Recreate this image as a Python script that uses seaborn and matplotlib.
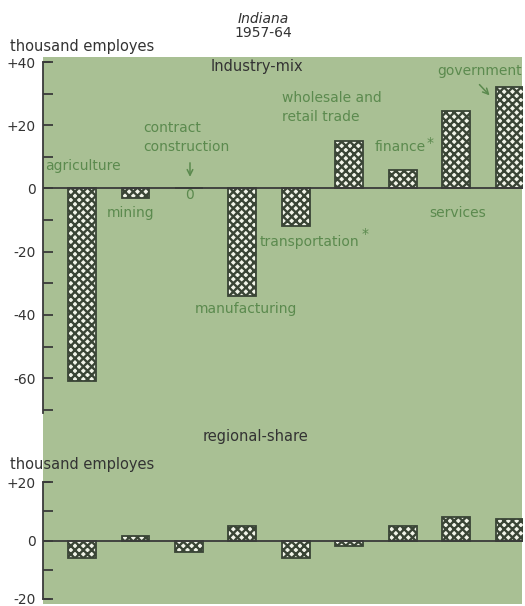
import matplotlib
matplotlib.use("Agg")
import matplotlib.pyplot as plt
from matplotlib.patches import Rectangle
import seaborn as sns
import pandas as pd

# values (thousand employes, 1957-64)
categories = ["agriculture", "mining", "contract construction", "manufacturing",
              "transportation", "wholesale and retail trade", "finance",
              "services", "government"]
industry_mix = [-61, -3, 0, -34, -12, 15, 6, 24.5, 32]
regional_share = [-6, 1.5, -4, 5, -6, -2, 5, 8, 7.5]

top_ticks = [40, 20, 0, -20, -40, -60]
top_ticklabels = ["+40", "+20", "0", "-20", "-40", "-60"]
bot_ticks = [20, 0, -20]
bot_ticklabels = ["+20", "0", "-20"]

sns.set_style("ticks")
plt.rcParams['font.family'] = ['DejaVu Sans']
plt.rcParams['hatch.linewidth'] = 1.7
plt.rcParams['hatch.color'] = '#3a4536'

BG = '#a9c094'
DARK = '#333333'
GREEN = '#5b8a4e'
BAR_EDGE = '#3a4536'
BAR_FACE = '#f2f5ea'

W, H = 525, 606
fig = plt.figure(figsize=(W / 100, H / 100), dpi=100)
fig.patch.set_facecolor('white')


def px_box(x0, y0, x1, y1):
    # pixel box (top-left origin) -> figure fraction rect
    return [x0 / W, 1 - y1 / H, (x1 - x0) / W, (y1 - y0) / H]


fig.patches.append(Rectangle((43 / W, 2 / H), (522 - 43) / W, (604 - 57) / H,
                             transform=fig.transFigure, facecolor=BG,
                             edgecolor='none', zorder=-5))

df = pd.DataFrame({'cat': categories, 'mix': industry_mix, 'share': regional_share})

ax1 = fig.add_axes(px_box(43, 62, 523, 413))
ax2 = fig.add_axes(px_box(43, 482, 523, 599))

for ax, col, ylim, ticks, labels in [
        (ax1, 'mix', (-71, 40), top_ticks, top_ticklabels),
        (ax2, 'share', (-20, 20), bot_ticks, bot_ticklabels)]:
    ax.patch.set_alpha(0)
    sns.barplot(data=df, x='cat', y=col, ax=ax, color=BAR_FACE, width=0.52,
                edgecolor=BAR_EDGE, linewidth=1.3, saturation=1)
    for p in ax.patches:
        p.set_hatch('xxxx')
        p.set_facecolor(BAR_FACE)
    ax.axhline(0, color='#3a3a3a', lw=1.3, zorder=5)
    ax.set_xlim(-0.73, 8.25)
    ax.set_ylim(*ylim)
    ax.set_yticks(ticks)
    ax.set_yticklabels(labels)
    ax.set_yticks([t + 10 for t in ticks[1:]] + [ticks[-1] - 10] if col == 'mix'
                  else [10, -10], minor=True)
    ax.tick_params(axis='y', which='both', direction='in', length=7, width=1.3,
                   color='#3a3a3a', labelsize=10, labelcolor=DARK, pad=5)
    ax.set_xticks([])
    ax.set_xlabel('')
    ax.set_ylabel('')
    for s in ['top', 'right', 'bottom']:
        ax.spines[s].set_visible(False)
    ax.spines['left'].set_color('#3a3a3a')
    ax.spines['left'].set_linewidth(1.3)
    ax.spines['left'].set_bounds(ylim[0], ylim[1])

# corner marks at the top and bottom of the axis lines
ax1.plot([-0.73, -0.6], [40, 40], color='#3a3a3a', lw=1.3, clip_on=False)
ax2.plot([-0.73, -0.6], [20, 20], color='#3a3a3a', lw=1.3, clip_on=False)
ax2.plot([-0.73, -0.6], [-20, -20], color='#3a3a3a', lw=1.3, clip_on=False)

# titles and unit labels
fig.text(263 / W, 1 - 19 / H, 'Indiana', ha='center', va='center', style='italic',
         fontsize=10, color=DARK)
fig.text(263 / W, 1 - 33 / H, '1957-64', ha='center', va='center', fontsize=10,
         color=DARK)
fig.text(10 / W, 1 - 47 / H, 'thousand employes', ha='left', va='center',
         fontsize=10.5, color=DARK)
fig.text(10 / W, 1 - 465 / H, 'thousand employes', ha='left', va='center',
         fontsize=10.5, color=DARK)
fig.text(257 / W, 1 - 67 / H, 'Industry-mix', ha='center', va='center',
         fontsize=10.5, color=DARK)
fig.text(255 / W, 1 - 436 / H, 'regional-share', ha='center', va='center',
         fontsize=10.5, color=DARK)

# green category labels
kw = dict(fontsize=10, color=GREEN, va='center', ha='left')
ax1.text(-0.69, 7, 'agriculture', **kw)
ax1.text(0.47, -7.6, 'mining', **kw)
ax1.text(1.14, 16.1, 'contract\nconstruction', linespacing=1.5, **kw)
ax1.annotate('', xy=(2.02, 2.8), xytext=(2.02, 9.0),
             arrowprops=dict(arrowstyle='->', color=GREEN, lw=1.1))
ax1.text(2.02, -2, '0', fontsize=10, color=GREEN, va='center', ha='center')
ax1.text(3.07, -38, 'manufacturing', fontsize=10, color=GREEN, va='center', ha='center')
ax1.text(3.33, -17, 'transportation', **kw)
ax1.text(5.23, -14.5, '*', fontsize=10, color=GREEN, va='center', ha='left')
ax1.text(3.74, 25.6, 'wholesale and\nretail trade', linespacing=1.5, **kw)
ax1.text(5.48, 13, 'finance', **kw)
ax1.text(6.45, 14.5, '*', fontsize=10, color=GREEN, va='center', ha='left')
ax1.text(6.5, -7.9, 'services', **kw)
ax1.text(6.64, 37.3, 'government', **kw)
ax1.annotate('', xy=(7.66, 28.8), xytext=(7.4, 33.5),
             arrowprops=dict(arrowstyle='->', color=GREEN, lw=1.1))

fig.savefig('out.png', dpi=100)
